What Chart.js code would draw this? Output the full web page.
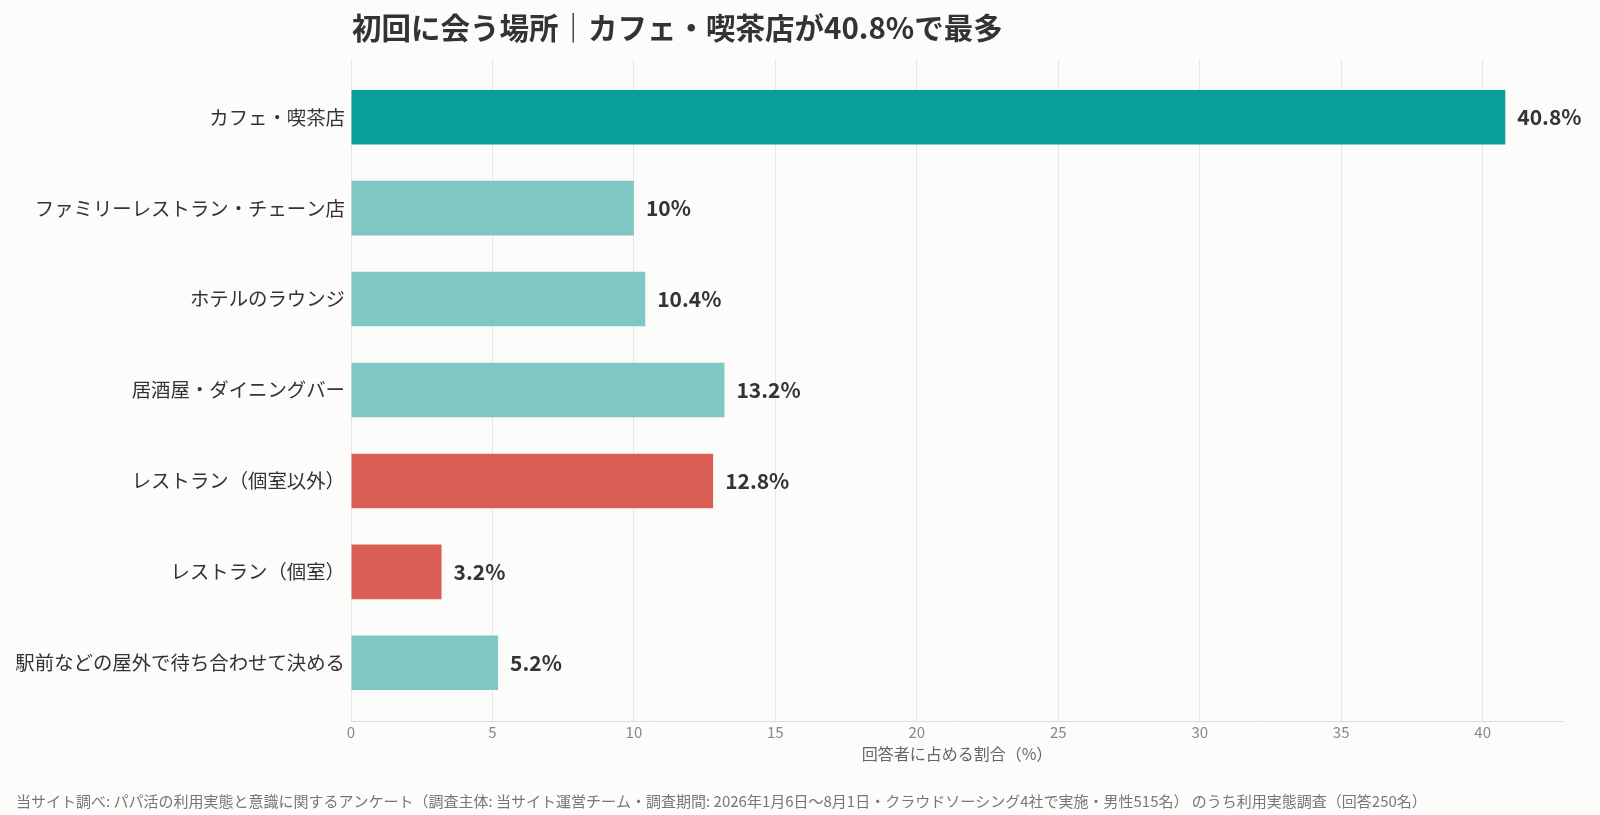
<!DOCTYPE html>
<html>
<head>
<meta charset="utf-8">
<script src="https://cdn.jsdelivr.net/npm/chart.js@4.4.1/dist/chart.umd.min.js"></script>
<style>
  html, body { margin: 0; padding: 0; background: #fcfcfa; }
  #wrap { width: 1600px; height: 815px; }
</style>
</head>
<body>
<div id="wrap"><canvas id="myChart"></canvas></div>
<script>
const categories = [
    'カフェ・喫茶店',
    'ファミリーレストラン・チェーン店',
    'ホテルのラウンジ',
    '居酒屋・ダイニングバー',
    'レストラン（個室以外）',
    'レストラン（個室）',
    '駅前などの屋外で待ち合わせて決める'
];
const shares = [40.8, 10, 10.4, 13.2, 12.8, 3.2, 5.2];
const valueLabels = ['40.8%', '10%', '10.4%', '13.2%', '12.8%', '3.2%', '5.2%'];
const barColors = ['#0a9e9a', '#7fc7c3', '#7fc7c3', '#7fc7c3', '#db5e56', '#db5e56', '#7fc7c3'];

const titleText = '初回に会う場所｜カフェ・喫茶店が40.8%で最多';
const xAxisTitle = '回答者に占める割合（%）';
const sourceText = '当サイト調べ: パパ活の利用実態と意識に関するアンケート（調査主体: 当サイト運営チーム・調査期間: 2026年1月6日〜8月1日・クラウドソーシング4社で実施・男性515名） のうち利用実態調査（回答250名）';

const FONT = '"Noto Sans CJK JP", "Noto Sans", sans-serif';

const points = shares.map((v, i) => ({x: v, y: i}));

// value labels at the end of each bar, plus title and source note
const textPlugin = {
    id: 'texts',
    afterDatasetsDraw(chart) {
        const ctx = chart.ctx;
        const meta = chart.getDatasetMeta(0);
        ctx.save();
        ctx.font = 'bold 21px ' + FONT;
        ctx.fillStyle = '#333333';
        ctx.textAlign = 'left';
        ctx.textBaseline = 'middle';
        meta.data.forEach((bar, i) => {
            ctx.fillText(valueLabels[i], bar.x + 12, bar.y);
        });
        ctx.restore();
    },
    afterDraw(chart) {
        const ctx = chart.ctx;
        ctx.save();
        ctx.fillStyle = '#333333';
        ctx.font = 'bold 29.5px ' + FONT;
        ctx.textAlign = 'left';
        ctx.textBaseline = 'middle';
        ctx.fillText(titleText, chart.chartArea.left + 1, 28);

        ctx.fillStyle = '#777777';
        ctx.font = '15px ' + FONT;
        ctx.fillText(sourceText, 16, 801);
        ctx.restore();
    }
};

const ctx = document.getElementById('myChart');
const myChart = new Chart(ctx, {
    type: 'bar',
    data: {
        datasets: [{
            label: '割合',
            data: points,
            backgroundColor: barColors,
            borderWidth: 0,
            categoryPercentage: 1.0,
            barPercentage: 0.6
        }]
    },
    options: {
        indexAxis: 'y',
        responsive: true,
        maintainAspectRatio: false,
        animation: false,
        layout: {
            padding: {left: 0, right: 37, top: 59, bottom: 51}
        },
        plugins: {
            legend: {display: false},
            tooltip: {enabled: false}
        },
        scales: {
            x: {
                type: 'linear',
                position: 'bottom',
                min: 0,
                max: 42.84,
                afterFit: (s) => { s.height = 43; },
                grid: {
                    color: '#e6e6e6',
                    lineWidth: 1,
                    drawTicks: false
                },
                border: {color: '#dddddd'},
                ticks: {
                    stepSize: 5,
                    includeBounds: false,
                    padding: 2,
                    color: '#888888',
                    font: {family: FONT, size: 15}
                },
                title: {
                    display: true,
                    text: xAxisTitle,
                    color: '#666666',
                    padding: {top: 2, bottom: 0},
                    font: {family: FONT, size: 16}
                }
            },
            y: {
                type: 'linear',
                reverse: true,
                offset: false,
                min: -0.64,
                max: 6.64,
                afterFit: (s) => { s.width = 351; },
                afterBuildTicks: (s) => {
                    s.ticks = categories.map((c, i) => ({value: i}));
                },
                grid: {display: false, drawTicks: false},
                border: {display: false},
                ticks: {
                    padding: 6,
                    color: '#333333',
                    font: {family: FONT, size: 19.4},
                    callback: (v) => categories[v]
                }
            }
        }
    },
    plugins: [textPlugin]
});
</script>
</body>
</html>
